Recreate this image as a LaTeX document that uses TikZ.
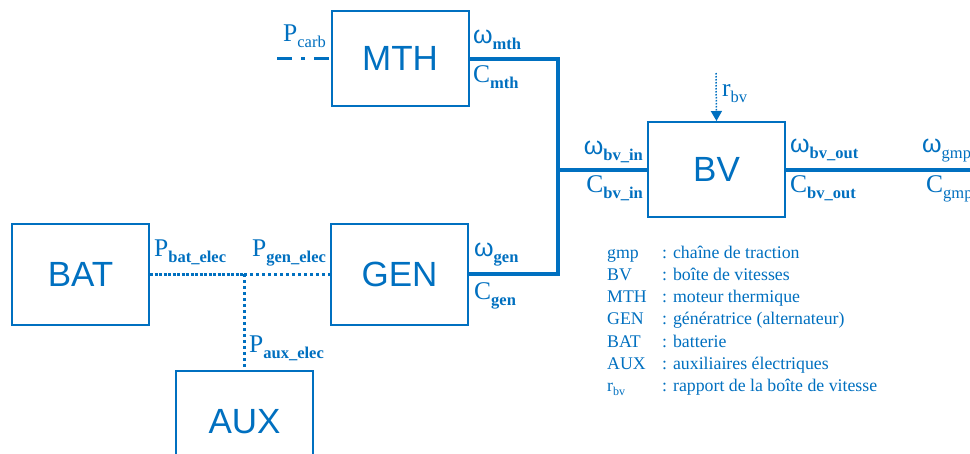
\documentclass[tikz,border=0pt]{standalone}
\usepackage{fontspec}
\setmainfont{Liberation Serif}
\newfontfamily\boxfont{Liberation Sans}
\usetikzlibrary{arrows.meta}
\definecolor{bl}{RGB}{0,112,192}
\newcommand{\om}{{\boxfont\fontsize{25}{25}\selectfont ω}}
\newcommand{\lbl}[2]{{\fontsize{25.5}{25}\selectfont #1}\raisebox{-6pt}{\fontsize{16.5}{16}\selectfont #2}}
\newcommand{\lblw}[1]{\om\raisebox{-6pt}{\fontsize{16.5}{16}\selectfont #1}}
\tikzset{
  blk/.style={draw=bl, line width=2pt, minimum width=137pt, minimum height=95pt, inner sep=0pt, text=bl, font=\boxfont\fontsize{35}{35}\selectfont},
  mech/.style={draw=bl, line width=4pt},
  elec/.style={draw=bl, line width=3pt, dash pattern=on 3pt off 3pt},
  elecd/.style={draw=bl, line width=3pt, dash pattern=on 3pt off 1.5pt},
  lab/.style={text=bl, inner sep=0pt},
  leg/.style={text=bl, inner sep=0pt, anchor=base west, font=\fontsize{17.8}{17.8}\selectfont}
}
\begin{document}
\begin{tikzpicture}[x=1pt,y=-1pt]
\clip (0,0) rectangle (970,453);
\fill[white] (0,0) rectangle (970,453);
% boxes
\node[blk] (mth) at (400,58.5) {MTH};
\node[blk] (bv) at (716.5,169.5) {BV};
\node[blk, minimum height=101pt] (gen) at (399.5,274) {GEN};
\node[blk, minimum height=101pt] (bat) at (80.5,274.5) {BAT};
\node[blk, minimum height=102pt] (aux) at (244.5,422) {AUX};
% coordinates
\coordinate (pc) at (277,58.5);
\coordinate (j1) at (557.5,58.5);
\coordinate (j2) at (557.5,274);
\coordinate (jb) at (557.5,169.5);
\coordinate (je) at (244,274);
\coordinate (gout) at (975,169.5);
\coordinate (rtop) at (716,73);
% mechanical links
\draw[mech, line join=miter] (mth.east) -- (j1) -- (j2) -- (gen.east |- j2);
\draw[mech] (jb) -- (bv.west |- jb);
\draw[mech] (bv.east |- jb) -- (gout);
% fuel
\draw[draw=bl, line width=3pt, dash pattern=on 15pt off 9pt on 4pt off 9pt] (pc) -- (mth.west);
% electrical links
\draw[elecd] (bat.east |- je) -- (je);
\draw[elec] (je) -- (gen.west |- je);
\draw[elec] (je) -- (aux.north -| je);
% gear ratio
\draw[draw=bl, line width=1.5pt, dash pattern=on 1.5pt off 1.5pt, -{Triangle[length=10pt,width=11pt]}] (rtop) -- (bv.north);
% labels
\node[lab, anchor=base west] (lpc) at (283,41) {\lbl{P}{carb}};
\node[lab, anchor=base west] (lwm) at (473,43) {\lblw{\bfseries mth}};
\node[lab, anchor=base west] (lcm) at (473,82) {\lbl{C}{\bfseries mth}};
\node[lab, anchor=base east] (lwbi) at (643,154) {\lblw{\bfseries bv\_in}};
\node[lab, anchor=base east] (lcbi) at (643,192) {\lbl{C}{\bfseries bv\_in}};
\node[lab, anchor=base west] (lwbo) at (790,152) {\lblw{\bfseries bv\_out}};
\node[lab, anchor=base west] (lcbo) at (790,192) {\lbl{C}{\bfseries bv\_out}};
\node[lab, anchor=base west] (lwg) at (922,152) {\lblw{gmp}};
\node[lab, anchor=base west] (lcg) at (926,192) {\lbl{C}{gmp}};
\node[lab, anchor=base west] (lr) at (722,96) {\lbl{r}{bv}};
\node[lab, anchor=base west] (lpb) at (154,256) {\lbl{P}{\bfseries bat\_elec}};
\node[lab, anchor=base west] (lpg) at (252,256) {\lbl{P}{\bfseries gen\_elec}};
\node[lab, anchor=base west] (lpa) at (249,352) {\lbl{P}{\bfseries aux\_elec}};
\node[lab, anchor=base west] (lwge) at (474,256) {\lblw{\bfseries gen}};
\node[lab, anchor=base west] (lcge) at (474,299) {\lbl{C}{\bfseries gen}};
% legend
\node[leg] (k1) at (607,258) {gmp};
\node[leg] (k2) at (607,280) {BV};
\node[leg] (k3) at (607,302) {MTH};
\node[leg] (k4) at (607,324) {GEN};
\node[leg] (k5) at (607,347) {BAT};
\node[leg] (k6) at (607,369) {AUX};
\node[leg] (k7) at (607,391) {r\raisebox{-4pt}{\fontsize{12}{12}\selectfont bv}};
\node[leg] (v1) at (662,258) {: chaîne de traction};
\node[leg] (v2) at (662,280) {: boîte de vitesses};
\node[leg] (v3) at (662,302) {: moteur thermique};
\node[leg] (v4) at (662,324) {: génératrice (alternateur)};
\node[leg] (v5) at (662,347) {: batterie};
\node[leg] (v6) at (662,369) {: auxiliaires électriques};
\node[leg] (v7) at (662,391) {: rapport de la boîte de vitesse};
\end{tikzpicture}
\end{document}
